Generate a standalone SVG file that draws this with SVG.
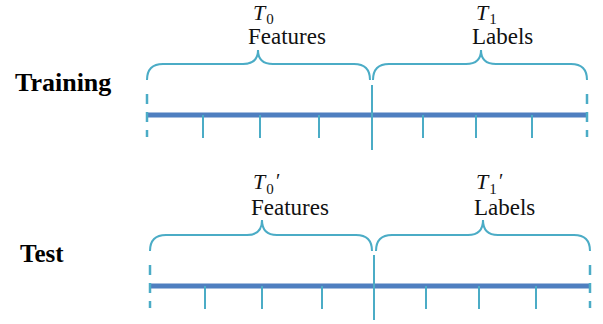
<svg xmlns="http://www.w3.org/2000/svg" width="603" height="324" viewBox="0 0 603 324">
<style>
.bar{stroke:#4f7fc0;stroke-width:5;fill:none}
.tick{stroke:#4bacc6;stroke-width:2;fill:none}
.dash{stroke:#4bacc6;stroke-width:2.5;fill:none;stroke-dasharray:10 8}
.brace{stroke:#4bacc6;stroke-width:2;fill:none}
text{font-family:'Liberation Serif','Times New Roman','DejaVu Serif',serif;fill:#111}
.lbl{font-size:23px}
.math{font-size:22px}
.it{font-style:italic}
.sub{font-size:15px;font-style:normal}
.pr{font-style:italic;font-size:20px}
.row{font-weight:bold;font-size:25px;fill:#000}
</style>
<rect width="603" height="324" fill="#fff"/>
<g id="training">
  <text class="row" x="15" y="91" style="font-size:26px">Training</text>
  <g id="training-axis">
    <line class="bar" x1="146" y1="115" x2="587" y2="115"/>
    <line class="dash" x1="147" y1="94" x2="147" y2="137"/>
    <line class="dash" x1="587" y1="94" x2="587" y2="137"/>
    <line class="tick" x1="203" y1="115" x2="203" y2="138"/>
    <line class="tick" x1="260" y1="115" x2="260" y2="138"/>
    <line class="tick" x1="319" y1="115" x2="319" y2="138"/>
    <line class="tick" x1="423" y1="115" x2="423" y2="138"/>
    <line class="tick" x1="476" y1="115" x2="476" y2="138"/>
    <line class="tick" x1="532" y1="115" x2="532" y2="138"/>
    <line class="tick" x1="372" y1="85" x2="372" y2="150"/>
  </g>
  <g id="training-features">
    <path class="brace" d="M147,80 Q147,64 163,64 L243,64 Q258,64 258,50 Q258,64 273,64 L354,64 Q370,64 370,80"/>
    <text class="math" x="253" y="20"><tspan class="it">T</tspan><tspan class="sub" dx="1" dy="4">0</tspan></text>
    <text class="lbl" x="248" y="44">Features</text>
  </g>
  <g id="training-labels">
    <path class="brace" d="M373,80 Q373,64 389,64 L466,64 Q481,64 481,50 Q481,64 496,64 L571,64 Q587,64 587,80"/>
    <text class="math" x="476" y="20"><tspan class="it">T</tspan><tspan class="sub" dx="1" dy="4">1</tspan></text>
    <text class="lbl" x="472" y="44">Labels</text>
  </g>
</g>
<g id="test">
  <text class="row" x="20" y="262">Test</text>
  <g id="test-axis">
    <line class="bar" x1="149" y1="286" x2="590" y2="286"/>
    <line class="dash" x1="150" y1="265" x2="150" y2="308"/>
    <line class="dash" x1="590" y1="265" x2="590" y2="308"/>
    <line class="tick" x1="205" y1="286" x2="205" y2="309"/>
    <line class="tick" x1="262" y1="286" x2="262" y2="309"/>
    <line class="tick" x1="322" y1="286" x2="322" y2="309"/>
    <line class="tick" x1="426" y1="286" x2="426" y2="309"/>
    <line class="tick" x1="479" y1="286" x2="479" y2="309"/>
    <line class="tick" x1="536" y1="286" x2="536" y2="309"/>
    <line class="tick" x1="374" y1="255" x2="374" y2="320"/>
  </g>
  <g id="test-features">
    <path class="brace" d="M150,251 Q150,235 166,235 L247,235 Q262,235 262,220 Q262,235 277,235 L356,235 Q372,235 372,251"/>
    <text class="math" x="253" y="189"><tspan class="it">T</tspan><tspan class="sub" dx="1" dy="5">0</tspan><tspan class="pr" dx="1" dy="-6">′</tspan></text>
    <text class="lbl" x="251" y="215">Features</text>
  </g>
  <g id="test-labels">
    <path class="brace" d="M376,251 Q376,235 392,235 L468,235 Q483,235 483,220 Q483,235 498,235 L574,235 Q590,235 590,251"/>
    <text class="math" x="476" y="189"><tspan class="it">T</tspan><tspan class="sub" dx="1" dy="5">1</tspan><tspan class="pr" dx="1" dy="-6">′</tspan></text>
    <text class="lbl" x="474" y="215">Labels</text>
  </g>
</g>
</svg>
